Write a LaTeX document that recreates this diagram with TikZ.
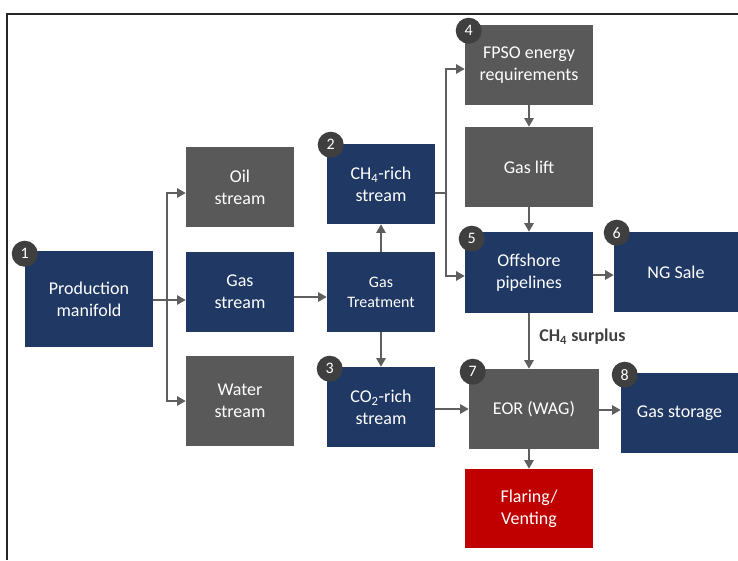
\documentclass[tikz,border=0pt]{standalone}
\usepackage{fontspec}
\setmainfont{Carlito}
\usetikzlibrary{arrows.meta}
\definecolor{navyc}{HTML}{1F3864}
\definecolor{grayc}{HTML}{595959}
\definecolor{badgec}{HTML}{3F3F3F}
\definecolor{flarec}{HTML}{C00000}
\definecolor{arrc}{HTML}{5F5F5F}
\definecolor{labc}{HTML}{404040}
\begin{document}
\begin{tikzpicture}[x=0.75pt,y=-0.75pt,
  box/.style={rectangle, draw=none, text=white, align=center, inner sep=0pt,
    font=\fontsize{13.5}{16.5}\selectfont},
  navybox/.style={box, fill=navyc},
  graybox/.style={box, fill=grayc},
  redbox/.style={box, fill=flarec},
  badge/.style={circle, fill=badgec, text=white, inner sep=0pt, minimum size=19.5pt,
    font=\fontsize{12}{12}\selectfont},
  conn/.style={draw=arrc, line width=1.4pt},
  arr/.style={conn, -{Triangle[length=6.5pt,width=7pt]}}]
\useasboundingbox (0,0) rectangle (738,560);
\draw[line width=1.6pt, black!85] (7,560) -- (7,14) -- (738,14);

% boxes
\node[navybox, minimum width=96pt, minimum height=72pt] (pm) at (89,299) {Production\\manifold};
\node[graybox, minimum width=81pt, minimum height=60pt] (oil) at (240,187) {Oil\\stream};
\node[navybox, minimum width=81pt, minimum height=60pt] (gas) at (240,292) {Gas\\stream};
\node[graybox, minimum width=81pt, minimum height=67.5pt] (water) at (240,401) {Water\\stream};
\node[navybox, minimum width=81pt, minimum height=60pt] (ch4) at (381,184) {CH\textsubscript{4}-rich\\stream};
\node[navybox, minimum width=81pt, minimum height=60pt, font=\fontsize{12}{15}\selectfont] (gt) at (381,292) {Gas\\Treatment};
\node[navybox, minimum width=81pt, minimum height=60pt] (co2) at (381,407) {CO\textsubscript{2}-rich\\stream};
\node[graybox, minimum width=96pt, minimum height=60pt] (fpso) at (529,65) {FPSO energy\\requirements};
\node[graybox, minimum width=96pt, minimum height=60pt] (lift) at (529,167) {Gas lift};
\node[navybox, minimum width=96pt, minimum height=60.75pt] (off) at (529,272.5) {Offshore\\pipelines};
\node[navybox, minimum width=93pt, minimum height=60pt] (ng) at (676,272) {NG Sale};
\node[graybox, minimum width=97.5pt, minimum height=60pt] (eor) at (534,409) {EOR (WAG)};
\node[navybox, minimum width=87.75pt, minimum height=60pt] (stor) at (679.5,413) {Gas storage};
\node[redbox, minimum width=96pt, minimum height=59.25pt] (flare) at (529,508.5) {Flaring/\\Venting};

% badges
\node[badge] (b1) at ([shift={(0,3)}]pm.north west) {1};
\node[badge] (b2) at ([shift={(4,1)}]ch4.north west) {2};
\node[badge] (b3) at ([shift={(3,2)}]co2.north west) {3};
\node[badge] (b4) at ([shift={(4,6)}]fpso.north west) {4};
\node[badge] (b5) at ([shift={(7,7)}]off.north west) {5};
\node[badge] (b6) at ([shift={(3,1)}]ng.north west) {6};
\node[badge] (b7) at ([shift={(4,3)}]eor.north west) {7};
\node[badge] (b8) at ([shift={(4,2)}]stor.north west) {8};

% connectors
\coordinate (j1) at (167,300);
\draw[conn] (pm.east |- j1) -- (j1);
\draw[arr] (j1) |- ([yshift=-4.5pt]oil.west);
\draw[arr] (j1) -- (gas.west |- j1);
\draw[arr] (j1) |- (water.west);
\draw[arr] ([yshift=-3.75pt]gas.east) -- ([yshift=-3.75pt]gt.west);
\draw[arr] (gt.north) -- (ch4.south);
\draw[arr] (gt.south) -- (co2.north);
\coordinate (j2) at (446,193);
\draw[conn] (ch4.east |- j2) -- (j2);
\draw[arr] (j2) |- ([yshift=-3pt]fpso.west);
\draw[arr] (j2) |- ([yshift=-2.6pt]off.west);
\draw[arr] (fpso.south) -- (lift.north);
\draw[arr] (lift.south) -- (off.north);
\draw[arr] ([yshift=-1.9pt]off.east) -- ([yshift=-1.9pt]off.east -| ng.west);
\draw[arr] (off.south) -- (off.south |- eor.north);
\draw[arr] (co2.east |- eor.west) -- (eor.west);
\draw[arr] ([yshift=-0.75pt]eor.east) -- ([yshift=-0.75pt]eor.east -| stor.west);
\draw[arr] (eor.south -| flare.north) -- (flare.north);

\node[font=\bfseries\fontsize{13.5}{16}\selectfont, text=labc, anchor=west, inner sep=0pt] (lab) at (539,337) {CH\textsubscript{4} surplus};
\end{tikzpicture}
\end{document}
